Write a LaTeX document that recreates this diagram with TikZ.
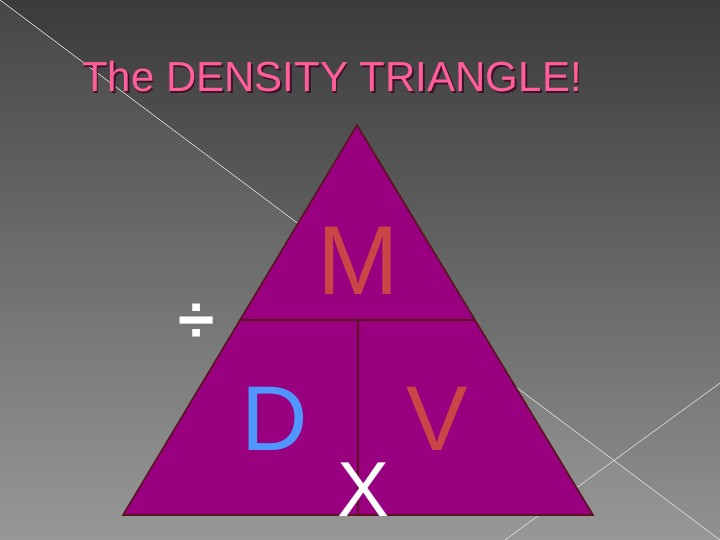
\documentclass[tikz,border=0pt]{standalone}
\usepackage{fontspec}
\setmainfont{Liberation Sans}
\begin{document}
\begin{tikzpicture}[x=1pt,y=-1pt,
  lbl/.style={inner sep=0pt,anchor=base},
  edge/.style={draw={rgb,255:red,90;green,20;blue,30},line width=1.6pt}]
\useasboundingbox (0,0) rectangle (720,540);
\shade[top color=black!77,bottom color=black!43] (0,0) rectangle (720,540);
\fill[white,opacity=0.06] (0,0) -- (720,540) -- (0,540) -- cycle;
\draw[white!75!gray,line width=0.6pt] (0,0) -- (720,540);
\draw[white!75!gray,line width=0.6pt] (720,383) -- (505,540);
\coordinate (apex) at (357,125);
\coordinate (bl) at (123,515);
\coordinate (br) at (593,515);
\coordinate (ml) at (241,320);
\coordinate (mr) at (475,320);
\coordinate (mt) at (358,320);
\coordinate (mb) at (358,515);
\fill[fill={rgb,255:red,153;green,0;blue,128},edge] (apex) -- (br) -- (bl) -- cycle;
\draw[edge] (ml) -- (mr);
\draw[edge] (mt) -- (mb);
\node[lbl,text={rgb,255:red,60;green,20;blue,40},font=\fontsize{42}{42}\selectfont] at (333.5,93.5) {The DENSITY TRIANGLE!};
\node[lbl,text={rgb,255:red,255;green,94;blue,154},font=\fontsize{42}{42}\selectfont] (title) at (332,92) {The DENSITY TRIANGLE!};
\node[lbl,text={rgb,255:red,200;green,70;blue,70},font=\fontsize{98}{98}\selectfont] (M) at (358,294) {M};
\node[lbl,text={rgb,255:red,80;green,150;blue,255},font=\fontsize{92}{92}\selectfont] (D) at (275,450) {D};
\node[lbl,text={rgb,255:red,200;green,70;blue,70},font=\fontsize{92}{92}\selectfont] (V) at (437,450) {V};
\node[lbl,text=white,font=\fontsize{78}{78}\selectfont] (X) at (364,516) {X};
\node[lbl,text=white,font=\fontsize{66}{66}\selectfont\bfseries] (div) at (197,342) {÷};
\end{tikzpicture}
\end{document}
